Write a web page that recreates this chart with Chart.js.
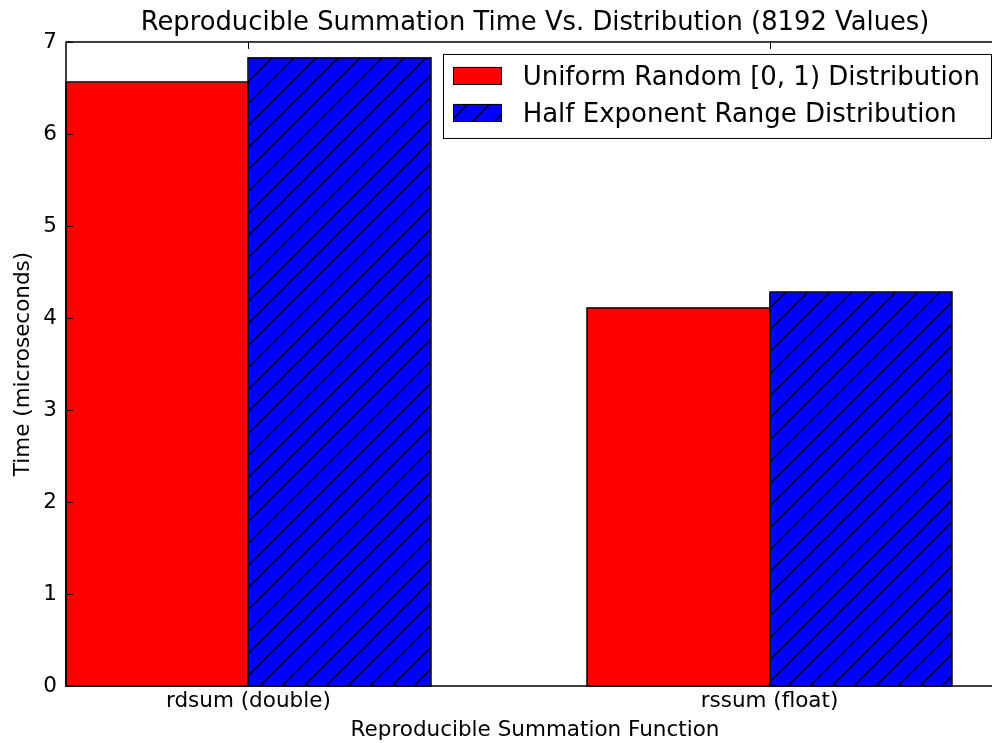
<!DOCTYPE html>
<html><head><meta charset="utf-8">
<script src="https://cdn.jsdelivr.net/npm/chart.js@4.4.1/dist/chart.umd.min.js"></script>
<style>html,body{margin:0;padding:0;overflow:hidden;background:#fff;width:992px;height:743px}canvas{display:block}</style>
</head><body>
<canvas id="c" width="1012" height="743"></canvas>
<script>
const categories = ['rdsum (double)', 'rssum (float)'];
const uniformValues = [6.56, 4.11];
const halfExponentValues = [6.83, 4.28];
const seriesLabels = ['Uniform Random [0, 1) Distribution', 'Half Exponent Range Distribution'];
const yTicks = [0, 1, 2, 3, 4, 5, 6, 7];
const titleText = 'Reproducible Summation Time Vs. Distribution (8192 Values)';
const xTitle = 'Reproducible Summation Function';
const yTitle = 'Time (microseconds)';

const FONT = 'DejaVu Sans';
const barWidth = 0.35;
Chart.defaults.font.family = FONT;
Chart.defaults.color = '#000';

const canvas = document.getElementById('c');
const mainCtx = canvas.getContext('2d');
function makeHatch(bg, fg, s) {
  const t = document.createElement('canvas');
  t.width = s; t.height = s;
  const g = t.getContext('2d');
  g.fillStyle = bg; g.fillRect(0, 0, s, s);
  g.strokeStyle = fg; g.lineWidth = 1.3;
  [0, s, 2 * s].forEach(c => {
    g.beginPath(); g.moveTo(c + 1, -1); g.lineTo(c - s - 1, s + 1); g.stroke();
  });
  return mainCtx.createPattern(t, 'repeat');
}
const hatchBlue = makeHatch('#0000ff', '#000000', 22);

const outlinePlugin = {
  id: 'outline',
  afterDatasetsDraw(chart) {
    const {ctx} = chart;
    ctx.save();
    ctx.strokeStyle = '#000';
    ctx.lineWidth = 1.5;
    chart.data.datasets.forEach((d, di) => {
      chart.getDatasetMeta(di).data.forEach(bar => {
        const p = bar.getProps(['x', 'y', 'base', 'width'], true);
        const l = Math.round(p.x - p.width / 2), r = Math.round(p.x + p.width / 2);
        const t = Math.round(p.y), b = Math.round(p.base);
        ctx.strokeRect(l, t, r - l, b - t);
      });
    });
    ctx.restore();
  }
};

const framePlugin = {
  id: 'frame',
  afterDatasetsDraw(chart) {
    const {ctx, chartArea: {left, top, right, bottom}, scales: {x, y}} = chart;
    ctx.save();
    ctx.strokeStyle = '#000';
    ctx.lineWidth = 1;
    const tl = 7;
    ctx.beginPath();
    y.ticks.forEach(t => {
      const py = Math.round(y.getPixelForValue(t.value)) + 0.5;
      ctx.moveTo(left, py); ctx.lineTo(left + tl, py);
      ctx.moveTo(right, py); ctx.lineTo(right - tl, py);
    });
    x.ticks.forEach(t => {
      const px = Math.round(x.getPixelForValue(t.value)) + 0.5;
      ctx.moveTo(px, bottom); ctx.lineTo(px, bottom - tl);
      ctx.moveTo(px, top); ctx.lineTo(px, top + tl);
    });
    ctx.stroke();
    ctx.lineWidth = 1.5;
    ctx.strokeRect(left, top, right - left, bottom - top);
    ctx.restore();
  }
};

const legendPlugin = {
  id: 'mplLegend',
  afterDraw(chart) {
    const {ctx, chartArea} = chart;
    ctx.save();
    ctx.font = '26px "' + FONT + '"';
    const ds = chart.data.datasets;
    const textW = Math.max(...ds.map(d => ctx.measureText(d.label).width));
    const right = chartArea.right - 13;
    const left = right - (80 + textW + 11);
    const top = chartArea.top + 12, bottom = chartArea.top + 96;
    ctx.fillStyle = '#fff';
    ctx.fillRect(left, top, right - left, bottom - top);
    ctx.strokeStyle = '#000'; ctx.lineWidth = 1;
    ctx.strokeRect(Math.round(left) + 0.5, top + 0.5, Math.round(right - left), bottom - top);
    ds.forEach((d, i) => {
      const py = chartArea.top + 25 + i * 37;
      const lx = Math.round(left) + 10;
      ctx.fillStyle = d.backgroundColor;
      ctx.fillRect(lx, py, 49, 18);
      ctx.strokeStyle = '#000';
      ctx.strokeRect(lx + 0.5, py + 0.5, 48, 17);
      ctx.fillStyle = '#000';
      ctx.textBaseline = 'alphabetic';
      ctx.textAlign = 'left';
      ctx.fillText(d.label, left + 80, chartArea.top + 43 + i * 37);
    });
    ctx.restore();
  }
};

const tickFont = {family: FONT, size: 21.5};

new Chart(canvas, {
  type: 'bar',
  data: {
    datasets: [
      {
        label: seriesLabels[0],
        data: categories.map((c, i) => ({x: i + barWidth, y: uniformValues[i]})),
        backgroundColor: '#ff0000',
        borderWidth: 0,
        categoryPercentage: 0.7,
        barPercentage: 1.0
      },
      {
        label: seriesLabels[1],
        data: categories.map((c, i) => ({x: i + barWidth, y: halfExponentValues[i]})),
        backgroundColor: hatchBlue,
        borderWidth: 0,
        categoryPercentage: 0.7,
        barPercentage: 1.0
      }
    ]
  },
  options: {
    responsive: false,
    devicePixelRatio: 1,
    animation: false,
    layout: {padding: {left: 0, right: 8, top: 0, bottom: 0}},
    plugins: {
      legend: {display: false},
      tooltip: {enabled: false},
      title: {
        display: true,
        text: titleText,
        fullSize: false,
        color: '#000',
        font: {family: FONT, size: 25.8, weight: 'normal', lineHeight: 1.2},
        padding: {top: 8, bottom: 3}
      }
    },
    scales: {
      x: {
        type: 'linear',
        min: 0,
        max: 1.8,
        offset: false,
        afterBuildTicks: s => { s.ticks = categories.map((c, i) => ({value: i + barWidth})); },
        afterFit: s => { s.height = 743 - 686; },
        ticks: {font: tickFont, color: '#000', padding: 3, maxRotation: 0, autoSkip: false,
          callback: (v, i) => categories[i]},
        grid: {display: false, drawTicks: false},
        border: {display: false},
        title: {display: true, text: xTitle, color: '#000', font: tickFont, padding: {top: 0, bottom: 0}}
      },
      y: {
        type: 'linear',
        min: 0,
        max: 7,
        afterBuildTicks: s => { s.ticks = yTicks.map(v => ({value: v})); },
        afterFit: s => { s.width = 66; },
        ticks: {font: tickFont, color: '#000', padding: 9},
        grid: {display: false, drawTicks: false},
        border: {display: false},
        title: {display: true, text: yTitle, color: '#000', font: tickFont, padding: {top: 11, bottom: 0}}
      }
    }
  },
  plugins: [outlinePlugin, framePlugin, legendPlugin]
});
</script>
</body></html>
